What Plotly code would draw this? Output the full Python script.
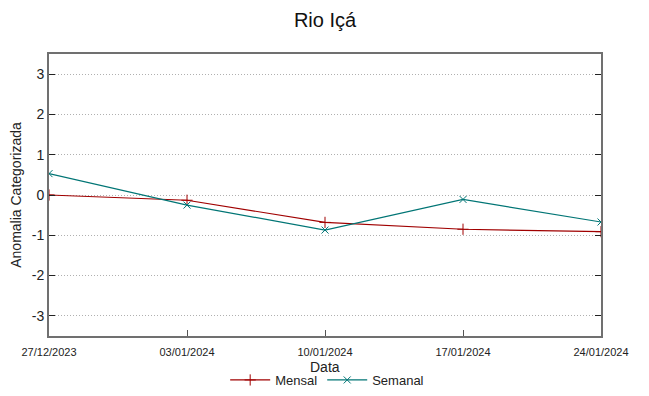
import plotly.graph_objects as go

dates = ["2023-12-27", "2024-01-03", "2024-01-10", "2024-01-17", "2024-01-24"]
tick_labels = ["27/12/2023", "03/01/2024", "10/01/2024", "17/01/2024", "24/01/2024"]
mensal = [0.0, -0.13, -0.68, -0.85, -0.91]
semanal = [0.53, -0.25, -0.87, -0.11, -0.67]
y_ticks = [-3, -2, -1, 0, 1, 2, 3]
y_tick_labels = ["-3", "-2", "-1", "0", "1", "2", "3"]

RED = "#a00000"
TEAL = "#007575"
FONT = "Liberation Sans"

# the page body has an 8px margin; size the figure so it fits the 649x396 window
OFF = 8
W, H = 633, 380

def cy(page_y):
    return 1 - (page_y - OFF) / H

fig = go.Figure()
fig.add_trace(go.Scatter(x=dates, y=mensal, name="Mensal", mode="lines+markers",
                         line=dict(color=RED, width=1.2),
                         marker=dict(symbol="cross-thin-open", size=8, color=RED,
                                     line=dict(width=1, color=RED))))
fig.add_trace(go.Scatter(x=dates, y=semanal, name="Semanal", mode="lines+markers",
                         line=dict(color=TEAL, width=1.2),
                         marker=dict(symbol="x-thin-open", size=7, color=TEAL,
                                     line=dict(width=1, color=TEAL))))

fig.update_layout(
    width=W, height=H,
    margin=dict(l=49 - OFF, r=W + OFF - 601, t=54 - OFF, b=H + OFF - 336, autoexpand=False),
    paper_bgcolor="white", plot_bgcolor="white",
    font=dict(family=FONT, color="#222222"),
    title=dict(text="Rio Içá", x=(325 - OFF) / W, xanchor="center", yref="container",
               y=cy(20), yanchor="middle",
               font=dict(size=20, family=FONT, color="#111111")),
    showlegend=True,
    legend=dict(orientation="h", x=(327 - OFF) / W, xanchor="center", yref="container",
                y=cy(380), yanchor="middle",
                font=dict(size=13, family=FONT), bgcolor="rgba(0,0,0,0)",
                itemwidth=40, tracegroupgap=0),
    annotations=[dict(text="Data", xref="paper", x=0.5, yref="paper",
                      y=-(367 - 336) / (336 - 54), xanchor="center", yanchor="middle",
                      showarrow=False, font=dict(size=14, family=FONT, color="#222222"))],
)
fig.update_xaxes(
    type="date", range=[dates[0], dates[-1]], automargin=False,
    tickmode="array", tickvals=dates, ticktext=tick_labels,
    tickfont=dict(size=11, family=FONT, color="#222222"),
    ticks="inside", ticklen=6, tickcolor="#555555",
    ticklabelstandoff=5,
    showline=True, linecolor="#707070", linewidth=2, mirror=True,
    showgrid=False, zeroline=False,
)
fig.update_yaxes(
    range=[-3.5, 3.5], automargin=False, tickmode="array",
    tickvals=y_ticks, ticktext=y_tick_labels,
    tickfont=dict(size=14, family=FONT, color="#222222"),
    ticks="inside", ticklen=6, tickcolor="#222222",
    showline=True, linecolor="#707070", linewidth=2, mirror="ticks",
    showgrid=True, gridcolor="#b0b0b0", griddash="1px,2px", gridwidth=1,
    zeroline=False,
    title=dict(text="Anomalia Categorizada", font=dict(size=14, family=FONT), standoff=8),
)

fig.write_html("out.html")
